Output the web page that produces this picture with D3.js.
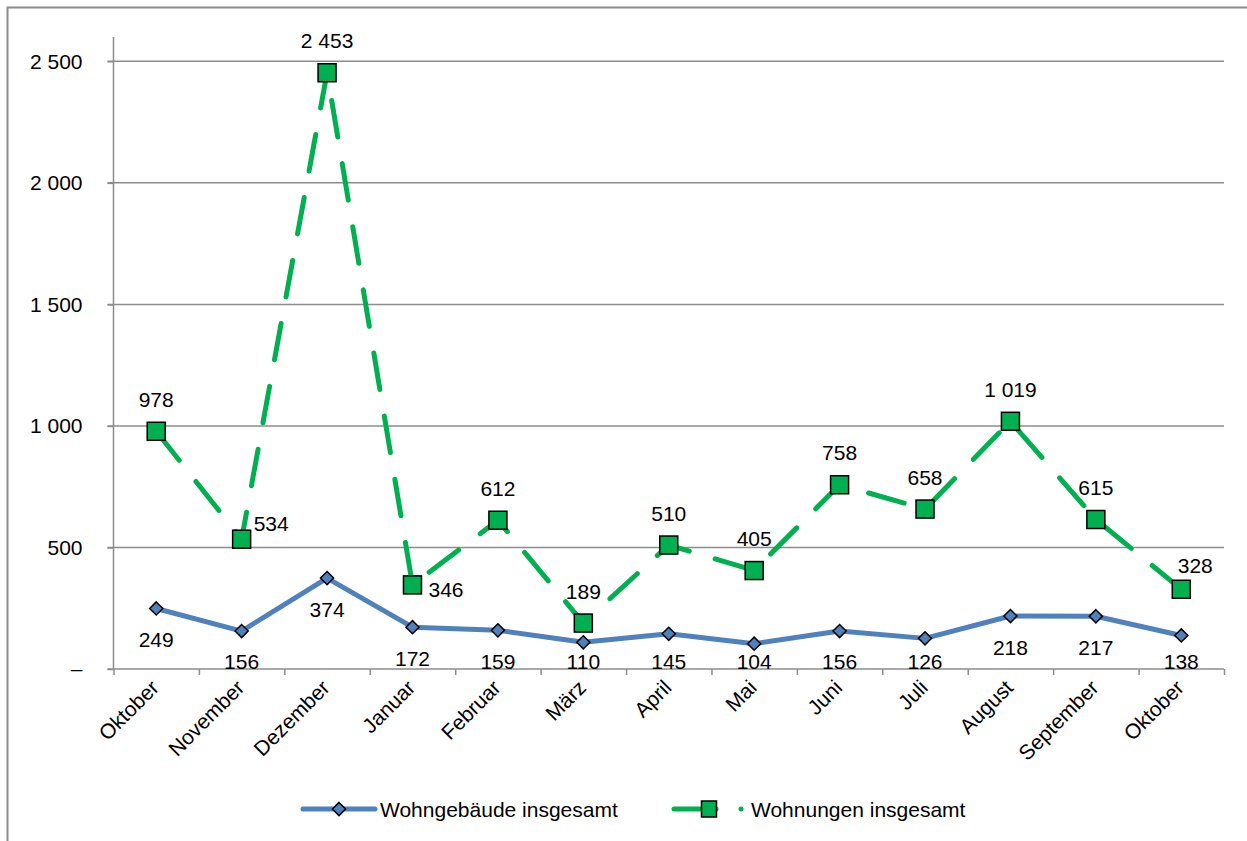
<!DOCTYPE html>
<html>
<head>
<meta charset="utf-8">
<script src="https://cdn.jsdelivr.net/npm/d3@7"></script>
<style>
  html, body { margin: 0; padding: 0; background: #fff; }
  svg { display: block; font-family: "Liberation Sans", Arial, sans-serif; }
</style>
</head>
<body>
<svg id="chart" width="1247" height="841"></svg>
<script>
const months = ["Oktober","November","Dezember","Januar","Februar","März","April","Mai","Juni","Juli","August","September","Oktober"];
const wohngebaeude = [249,156,374,172,159,110,145,104,156,126,218,217,138];
const wohnungen = [978,534,2453,346,612,189,510,405,758,658,1019,615,328];
const wohnungenLabelPlacement = ["above","upperRight","above","right","above","above","above","above","above","above","above","above","aboveRight"];
const yTicks = [0,500,1000,1500,2000,2500];
const seriesNames = ["Wohngebäude insgesamt","Wohnungen insgesamt"];

(function () {
const BLUE = "#4F81BD", GREEN = "#00B050", GRID = "#8c8c8c";
const FONT = 21;
const fmt = v => v === 0 ? "–" : d3.format(",")(v).replace(/,/g, " ");

const svg = d3.select("#chart");
const pL = 113.5, pR = 1224, pT = 37, pB = 669;

// outer frame
svg.append("rect").attr("x", 7.5).attr("y", 7.5).attr("width", 1300).attr("height", 900)
  .attr("fill", "none").attr("stroke", GRID).attr("stroke-width", 2);

const idx = months.map((_, i) => i);
const x = d3.scaleBand().domain(idx).range([pL, pR]).padding(0);
const xb = d3.scaleLinear().domain([0, months.length]).range([pL, pR]);
const y = d3.scaleLinear().domain([0, 2600]).range([pB, pT]);
const cx = i => x(i) + x.bandwidth() / 2;

// gridlines
svg.append("g").selectAll("line").data(yTicks.filter(d => d > 0)).join("line")
  .attr("x1", pL - 6).attr("x2", pR).attr("y1", d => y(d)).attr("y2", d => y(d))
  .attr("stroke", GRID).attr("stroke-width", 1.5);

// y axis
const yAxis = svg.append("g").attr("transform", `translate(${pL},0)`)
  .call(d3.axisLeft(y).tickValues(yTicks).tickSize(6).tickFormat(fmt));
yAxis.select(".domain").attr("stroke", GRID).attr("stroke-width", 1.5).attr("d", `M0,${pT}V${pB}`);
yAxis.selectAll(".tick line").attr("stroke", GRID).attr("stroke-width", 1.5);
yAxis.selectAll(".tick text").attr("x", -31).attr("font-size", FONT).attr("fill", "#000")
  .attr("font-family", "Liberation Sans, Arial, sans-serif");

// x axis (ticks at category boundaries)
const xAxis = svg.append("g").attr("transform", `translate(0,${pB})`)
  .call(d3.axisBottom(xb).tickValues(d3.range(0, months.length + 1)).tickSize(6).tickFormat(""));
xAxis.select(".domain").attr("stroke", GRID).attr("stroke-width", 1.5).attr("d", `M${pL - 6},0H${pR}`);
xAxis.selectAll(".tick line").attr("stroke", GRID).attr("stroke-width", 1.5);

// x labels
svg.append("g").selectAll("text").data(idx).join("text")
  .attr("transform", i => `translate(${cx(i) + 4},${pB + 20}) rotate(-45)`)
  .attr("text-anchor", "end").attr("font-size", FONT).attr("fill", "#000")
  .text(i => months[i]);

// lines
const lineGen = arr => d3.line().x((d, i) => cx(i)).y(d => y(d))(arr);
svg.append("path").attr("d", lineGen(wohngebaeude)).attr("fill", "none")
  .attr("stroke", BLUE).attr("stroke-width", 5).attr("stroke-linejoin", "round");
svg.append("path").attr("d", lineGen(wohnungen)).attr("fill", "none")
  .attr("stroke", GREEN).attr("stroke-width", 5).attr("stroke-linecap", "round")
  .attr("stroke-dasharray", "37,27");

// markers
const diamond = d3.symbol().type(d3.symbolDiamond2).size(110);
svg.append("g").selectAll("path").data(wohngebaeude).join("path")
  .attr("d", diamond).attr("transform", (d, i) => `translate(${cx(i)},${y(d)})`)
  .attr("fill", BLUE).attr("stroke", "#000").attr("stroke-width", 1.5);
const sq = 18;
svg.append("g").selectAll("rect").data(wohnungen).join("rect")
  .attr("x", (d, i) => cx(i) - sq / 2).attr("y", d => y(d) - sq / 2)
  .attr("width", sq).attr("height", sq)
  .attr("fill", GREEN).attr("stroke", "#000").attr("stroke-width", 1.5);

// labels blue (below)
svg.append("g").selectAll("text").data(wohngebaeude).join("text")
  .attr("x", (d, i) => cx(i)).attr("y", d => Math.min(y(d) + 31, 661))
  .attr("text-anchor", "middle").attr("dominant-baseline", "central")
  .attr("font-size", FONT).attr("fill", "#000").text(d => fmt(d));

// labels green
const place = {
  above: { dx: 0, dy: -32, anchor: "middle" },
  right: { dx: 16, dy: 5, anchor: "start" },
  upperRight: { dx: 12, dy: -16, anchor: "start" },
  aboveRight: { dx: 14, dy: -24, anchor: "middle" }
};
svg.append("g").selectAll("text").data(wohnungen).join("text")
  .attr("x", (d, i) => cx(i) + place[wohnungenLabelPlacement[i]].dx)
  .attr("y", (d, i) => y(d) + place[wohnungenLabelPlacement[i]].dy)
  .attr("text-anchor", (d, i) => place[wohnungenLabelPlacement[i]].anchor)
  .attr("dominant-baseline", "central")
  .attr("font-size", FONT).attr("fill", "#000").text(d => fmt(d));

// legend
const ly = 809;
const lg = svg.append("g");
lg.append("line").attr("x1", 303).attr("x2", 375).attr("y1", ly).attr("y2", ly)
  .attr("stroke", BLUE).attr("stroke-width", 5).attr("stroke-linecap", "round");
lg.append("path").attr("d", diamond).attr("transform", `translate(339,${ly})`)
  .attr("fill", BLUE).attr("stroke", "#000").attr("stroke-width", 1.5);
lg.append("text").attr("x", 380).attr("y", ly).attr("dominant-baseline", "central")
  .attr("font-size", FONT).attr("fill", "#000").text(seriesNames[0]);

lg.append("line").attr("x1", 674).attr("x2", 716).attr("y1", ly).attr("y2", ly)
  .attr("stroke", GREEN).attr("stroke-width", 5).attr("stroke-linecap", "round");
lg.append("circle").attr("cx", 741).attr("cy", ly).attr("r", 2.5).attr("fill", GREEN);
lg.append("rect").attr("x", 709 - 7.5).attr("y", ly - 8).attr("width", 15).attr("height", 16)
  .attr("fill", GREEN).attr("stroke", "#000").attr("stroke-width", 1.5);
lg.append("text").attr("x", 751).attr("y", ly).attr("dominant-baseline", "central")
  .attr("font-size", FONT).attr("fill", "#000").text(seriesNames[1]);
})();
</script>
</body>
</html>
